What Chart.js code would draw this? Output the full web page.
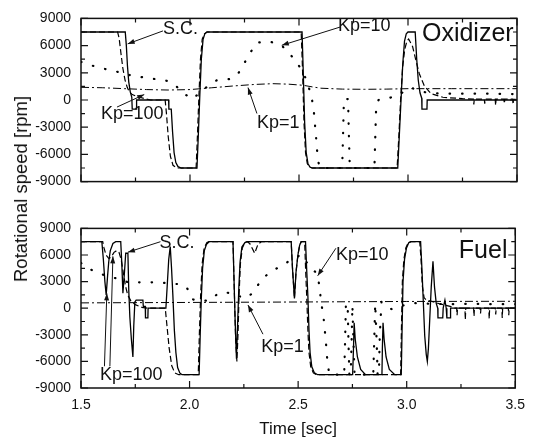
<!DOCTYPE html>
<html>
<head>
<meta charset="utf-8">
<script src="https://cdn.jsdelivr.net/npm/chart.js@4.4.0/dist/chart.umd.min.js"></script>
<style>
  body { margin: 0; background: #fff; }
  #wrap { position: relative; width: 534px; height: 442px; overflow: hidden; }
  canvas { position: absolute; left: 0; }
  #ytitle {
    position: absolute; left: 21px; top: 189px;
    transform: translate(-50%, -50%) rotate(-90deg);
    font: 18.5px "Liberation Sans", Arial, sans-serif;
    white-space: nowrap; color: #111;
  }
</style>
</head>
<body>
<div id="wrap">
  <canvas id="ox" width="534" height="200" style="top:0"></canvas>
  <canvas id="fuel" width="534" height="232" style="top:210px"></canvas>
  <div id="ytitle">Rotational speed [rpm]</div>
</div>
<script>
// axis ranges / ticks
const timeTicks = [1.5, 2.0, 2.5, 3.0, 3.5];
const rpmTicks = [-9000, -6000, -3000, 0, 3000, 6000, 9000];

// Oxidizer panel, [time sec, rpm]
const oxSC = [[1.5,7500],[1.703,7500],[1.708,6000],[1.713,3800],[1.719,2000],[1.726,900],[1.733,300],[1.735,-1000],[1.754,-1000],[1.755,0],
  [1.902,0],[1.903,-1000],[1.914,-1000],[1.92,-3500],[1.927,-5800],[1.935,-6900],[1.945,-7350],[1.96,-7500],[2.032,-7500],[2.038,-4000],
  [2.045,500],[2.052,4500],[2.06,6700],[2.068,7300],[2.078,7500],[2.514,7500],[2.519,3500],[2.526,-2500],[2.533,-5800],[2.541,-7000],
  [2.55,-7400],[2.562,-7500],[2.953,-7500],[2.96,-4000],[2.968,0],[2.976,4000],[2.984,6500],[2.992,7300],[3.0,7500],[3.033,7500],
  [3.04,4500],[3.047,2200],[3.055,800],[3.063,200],[3.064,-1000],[3.087,-1000],[3.088,0],[3.5,0]];
const oxKp100 = [[1.5,7500],[1.668,7500],[1.675,6800],[1.683,5200],[1.692,3500],[1.702,2200],[1.712,1400],[1.722,900],[1.735,600],[1.75,450],
  [1.77,300],[1.795,120],[1.82,0],[1.886,0],[1.892,-1500],[1.9,-4000],[1.91,-6200],[1.922,-7200],[1.94,-7500],[2.028,-7500],
  [2.034,-4000],[2.041,500],[2.048,4500],[2.056,6700],[2.066,7300],[2.078,7500],[2.51,7500],[2.516,3500],[2.523,-2500],[2.53,-5800],
  [2.538,-7000],[2.548,-7400],[2.56,-7500],[2.95,-7500],[2.958,-4000],[2.966,0],[2.975,3500],[2.985,5600],[2.995,6500],[3.003,6730],
  [3.021,5900],[3.037,4300],[3.052,2900],[3.075,1550],[3.106,700],[3.16,300],[3.25,150],[3.3,100],[3.302,-500],[3.304,100],
  [3.35,100],[3.352,-400],[3.354,100],[3.4,100],[3.402,-600],[3.404,100],[3.44,100],[3.442,-400],[3.444,100],[3.48,100],[3.482,-500],[3.484,100],[3.5,50]];
const oxKp10 = [[1.5,4200],[1.557,3750],[1.61,3420],[1.667,3110],[1.725,2740],[1.783,2510],[1.839,2310],[1.896,2110],[1.93,1700],[1.954,1100],
  [1.985,500],[2.011,100],[2.04,700],[2.08,1500],[2.122,2170],[2.18,2310],[2.215,2700],[2.238,3550],[2.269,4950],[2.307,6330],
  [2.364,6460],[2.42,6030],[2.466,4850],[2.508,3500],[2.535,2170],[2.554,660],[2.566,-700],[2.578,-4000],[2.586,-6500],[2.595,-7500],
  [2.698,-7500],[2.702,-4000],[2.706,100],[2.725,100],[2.729,-4000],[2.733,-7500],[2.846,-7500],[2.85,-4000],[2.854,-700],[2.865,0],
  [2.9,100],[2.96,600],[2.985,1000],[3.014,1370],[3.05,1000],[3.1,750],[3.2,700],[3.35,700],[3.5,650]];
const oxKp1 = [[1.5,1400],[1.6,1350],[1.7,1250],[1.8,1150],[1.9,1100],[2.0,1150],[2.1,1350],[2.2,1550],[2.3,1720],[2.38,1800],
  [2.45,1750],[2.52,1620],[2.56,1450],[2.6,1300],[2.7,1200],[2.8,1180],[2.9,1200],[3.0,1250],[3.2,1250],[3.5,1250]];

// Fuel panel, [time sec, rpm]
const fuelSC = [[1.5,7500],[1.596,7500],[1.603,5500],[1.61,3000],[1.616,1500],[1.622,3500],[1.628,5300],[1.635,6500],[1.647,7300],[1.66,7500],
  [1.683,7500],[1.688,5000],[1.693,1700],[1.7,4000],[1.706,6200],[1.716,6200],[1.72,2000],[1.725,-1000],[1.732,-3500],[1.739,-5500],
  [1.743,-2000],[1.748,700],[1.754,900],[1.785,900],[1.787,200],[1.796,200],[1.797,-1100],[1.808,-1100],[1.809,0],[1.891,0],
  [1.897,2500],[1.904,5500],[1.911,6950],[1.917,4500],[1.923,1500],[1.93,-2500],[1.937,-5000],[1.945,-6700],[1.955,-7300],[1.965,-7500],
  [2.044,-7500],[2.049,-3000],[2.054,1000],[2.06,4500],[2.068,6500],[2.078,7200],[2.09,7500],[2.2,7500],[2.205,3000],[2.21,-1500],
  [2.216,-5700],[2.221,-2000],[2.227,2400],[2.233,5300],[2.241,6900],[2.255,7400],[2.265,7500],[2.468,7500],[2.474,4500],[2.483,1100],
  [2.49,4000],[2.499,6000],[2.507,7100],[2.514,7500],[2.534,7500],[2.54,4000],[2.545,1300],[2.55,-2500],[2.555,-5000],[2.563,-6600],
  [2.575,-7300],[2.59,-7500],[2.751,-7500],[2.755,-4500],[2.758,-1650],[2.763,-3500],[2.773,-5500],[2.788,-6900],[2.81,-7500],[2.886,-7500],
  [2.888,-4500],[2.891,-1650],[2.896,-3500],[2.905,-5500],[2.92,-6900],[2.945,-7500],[2.975,-7500],[2.979,-2000],[2.983,3000],[2.99,5500],
  [2.999,6800],[3.01,7400],[3.02,7500],[3.064,7500],[3.07,4500],[3.075,1600],[3.083,-3100],[3.09,-5200],[3.095,-6000],[3.1,-4500],
  [3.106,-1300],[3.113,2400],[3.121,5300],[3.128,2400],[3.136,550],[3.143,0],[3.144,-1100],[3.166,-1100],[3.168,0],[3.176,900],
  [3.182,0],[3.185,-1100],[3.2,-1100],[3.202,0],[3.5,0]];
const fuelKp100 = [[1.5,7500],[1.6,7500],[1.606,6800],[1.615,6000],[1.628,5600],[1.64,5800],[1.652,6300],[1.665,6500],[1.675,6300],[1.685,5500],
  [1.695,4000],[1.705,2500],[1.715,1500],[1.73,800],[1.75,400],[1.78,100],[1.81,0],[1.888,0],[1.896,-2000],[1.906,-4500],
  [1.918,-6500],[1.932,-7300],[1.95,-7500],[2.04,-7500],[2.045,-3000],[2.051,1500],[2.058,5000],[2.067,6800],[2.08,7400],[2.09,7500],
  [2.2,7500],[2.206,2000],[2.212,-3500],[2.218,-6000],[2.223,-3000],[2.228,1500],[2.234,5000],[2.243,6800],[2.255,7400],[2.265,7500],
  [2.277,7300],[2.3,6200],[2.315,7200],[2.33,7500],[2.468,7500],[2.474,4500],[2.483,1100],[2.49,4000],[2.499,6000],[2.507,7100],
  [2.514,7500],[2.53,7500],[2.535,4000],[2.54,1000],[2.545,-2500],[2.55,-5000],[2.558,-6600],[2.57,-7300],[2.585,-7500],[2.972,-7500],
  [2.976,-2000],[2.98,3000],[2.987,5500],[2.996,6800],[3.007,7400],[3.02,7500],[3.06,7500],[3.066,5500],[3.072,2500],[3.08,1200],
  [3.09,900],[3.116,770],[3.15,500],[3.2,200],[3.22,0],[3.23,0],[3.232,-800],[3.234,0],[3.268,0],[3.27,-1300],[3.272,0],
  [3.308,0],[3.31,-900],[3.312,0],[3.338,0],[3.34,-600],[3.342,0],[3.378,0],[3.38,-1200],[3.382,0],[3.408,0],[3.41,-700],[3.412,0],
  [3.438,0],[3.44,-1100],[3.442,0],[3.468,0],[3.47,-800],[3.472,0],[3.5,0]];
const fuelKp10 = [[1.5,5100],[1.529,4540],[1.572,4060],[1.61,3700],[1.648,3440],[1.685,3290],[1.716,2920],[1.777,2920],[1.853,2920],[1.93,2740],
  [1.968,2700],[1.99,2200],[2.006,1300],[2.015,990],[2.05,800],[2.098,910],[2.128,1600],[2.16,1800],[2.2,1650],[2.254,1100],
  [2.292,1710],[2.33,3180],[2.368,4020],[2.407,4570],[2.445,5120],[2.48,5600],[2.514,6040],[2.541,5120],[2.57,4300],[2.59,3840],
  [2.598,2370],[2.605,910],[2.618,-1280],[2.628,-3840],[2.636,-6400],[2.645,-7500],[2.712,-7500],[2.716,-4000],[2.72,500],[2.728,500],
  [2.732,-4000],[2.736,-7500],[2.742,-7500],[2.746,-4000],[2.75,300],[2.755,-4000],[2.76,-7500],[2.846,-7500],[2.85,-4000],[2.855,500],
  [2.862,-4000],[2.866,-7500],[2.872,-7500],[2.876,-3000],[2.884,720],[2.93,-100],[2.97,200],[3.006,470],[3.05,600],[3.1,500],
  [3.2,450],[3.3,500],[3.4,450],[3.5,450]];
const fuelKp1 = [[1.5,600],[2.0,650],[2.5,700],[3.0,760],[3.5,780]];

// annotations: [text, time, rpm] and arrows [fromT, fromV, toT, toV, head]
const oxNotes = [['S.C.', 1.876, 7870], ['Kp=100', 1.592, -1510], ['Kp=10', 2.679, 8200], ['Kp=1', 2.307, -2510]];
const oxArrows = [[1.876, 7620, 1.714, 6190, 1], [1.665, -780, 1.79, 600, 1], [2.688, 8040, 2.421, 6030, 1], [2.307, -1490, 2.266, 1370, 1]];
const fuelNotes = [['S.C.', 1.861, 7310], ['Kp=100', 1.587, -7540], ['Kp=10', 2.674, 6040], ['Kp=1', 2.330, -4390]];
const fuelArrows = [[1.866, 7500, 1.716, 6320, 1], [1.608, -6550, 1.619, 1680, 1], [1.633, -6550, 1.647, 5850, 1],
  [2.674, 6760, 2.59, 3660, 1], [2.338, -2930, 2.269, 360, 1]];

Chart.defaults.font.family = '"Liberation Sans", Arial, sans-serif';
Chart.defaults.color = '#111';

const toXY = arr => arr.map(([x, y]) => ({ x, y }));

// box, inward ticks and labels/arrows
const decor = {
  id: 'decor',
  afterDraw(chart, args, opts) {
    const { ctx, chartArea: a, scales: { x, y } } = chart;
    ctx.save();
    ctx.strokeStyle = '#111';
    ctx.lineWidth = 1.5;
    ctx.strokeRect(a.left, a.top, a.right - a.left, a.bottom - a.top);
    ctx.lineWidth = 1.2;
    ctx.beginPath();
    for (let i = 0; i <= 8; i++) {
      const px = x.getPixelForValue(1.5 + i * 0.25);
      const len = i % 2 ? 4 : 7;
      ctx.moveTo(px, a.bottom); ctx.lineTo(px, a.bottom - len);
      ctx.moveTo(px, a.top); ctx.lineTo(px, a.top + len);
    }
    for (let i = 0; i <= 12; i++) {
      const py = y.getPixelForValue(-9000 + i * 1500);
      const len = i % 2 ? 4 : 7;
      ctx.moveTo(a.left, py); ctx.lineTo(a.left + len, py);
      ctx.moveTo(a.right, py); ctx.lineTo(a.right - len, py);
    }
    ctx.stroke();

    ctx.fillStyle = '#111';
    ctx.strokeStyle = '#111';
    ctx.lineWidth = 1;
    opts.arrows.forEach(([t1, v1, t2, v2, head]) => {
      const x1 = x.getPixelForValue(t1), y1 = y.getPixelForValue(v1);
      const x2 = x.getPixelForValue(t2), y2 = y.getPixelForValue(v2);
      ctx.beginPath();
      ctx.moveTo(x1, y1); ctx.lineTo(x2, y2);
      ctx.stroke();
      if (head) {
        const ang = Math.atan2(y2 - y1, x2 - x1);
        ctx.beginPath();
        ctx.moveTo(x2, y2);
        ctx.lineTo(x2 - 7 * Math.cos(ang) + 2.5 * Math.sin(ang), y2 - 7 * Math.sin(ang) - 2.5 * Math.cos(ang));
        ctx.lineTo(x2 - 7 * Math.cos(ang) - 2.5 * Math.sin(ang), y2 - 7 * Math.sin(ang) + 2.5 * Math.cos(ang));
        ctx.closePath();
        ctx.fill();
      }
    });
    ctx.textBaseline = 'middle';
    ctx.textAlign = 'left';
    ctx.font = '18px "Liberation Sans", Arial, sans-serif';
    opts.notes.forEach(([txt, t, v]) => {
      ctx.fillText(txt, x.getPixelForValue(t), y.getPixelForValue(v));
    });
    ctx.font = '25px "Liberation Sans", Arial, sans-serif';
    const [ptxt, pt, pv] = opts.panel;
    ctx.fillText(ptxt, x.getPixelForValue(pt), y.getPixelForValue(pv));
    ctx.restore();
  }
};

function makeSets(sc, kp100, kp10, kp1) {
  return [
    { label: 'S.C.', data: toXY(sc), borderColor: '#000', borderWidth: 1.3 },
    { label: 'Kp=100', data: toXY(kp100), borderColor: '#000', borderWidth: 1.2, borderDash: [6, 3] },
    { label: 'Kp=10', data: toXY(kp10), borderColor: '#000', borderWidth: 2.2, borderDash: [0.5, 12], borderCapStyle: 'round' },
    { label: 'Kp=1', data: toXY(kp1), borderColor: '#000', borderWidth: 1, borderDash: [8, 3, 2, 3] }
  ];
}

function makeChart(id, sets, isBottom, notes, arrows, panel) {
  return new Chart(document.getElementById(id), {
    type: 'line',
    data: { datasets: sets },
    options: {
      responsive: false,
      animation: false,
      elements: { point: { radius: 0 }, line: { tension: 0 } },
      layout: { padding: { top: 14, right: 17, bottom: isBottom ? 0 : 7, left: 0 } },
      plugins: {
        legend: { display: false },
        tooltip: { enabled: false },
        decor: { notes, arrows, panel }
      },
      scales: {
        x: {
          type: 'linear',
          display: isBottom,
          min: 1.5, max: 3.5,
          afterBuildTicks: s => { s.ticks = timeTicks.map(v => ({ value: v })); },
          afterFit: s => { if (isBottom) s.height = 54; },
          grid: { display: false, drawTicks: false },
          border: { display: false },
          ticks: { padding: 9, font: { size: 14 }, color: '#111', callback: v => v.toFixed(1), maxRotation: 0 },
          title: { display: true, text: 'Time [sec]', font: { size: 17 }, color: '#111', padding: { top: 4, bottom: 2 } }
        },
        y: {
          type: 'linear',
          min: -9000, max: 9000,
          afterBuildTicks: s => { s.ticks = rpmTicks.map(v => ({ value: v })); },
          afterFit: s => { s.width = 81; },
          grid: { display: false, drawTicks: false },
          border: { display: false },
          ticks: { padding: 10, font: { size: 14 }, color: '#111', callback: v => String(v) }
        }
      }
    },
    plugins: [decor]
  });
}

makeChart('ox', makeSets(oxSC, oxKp100, oxKp10, oxKp1), false, oxNotes, oxArrows, ['Oxidizer', 3.064, 7300]);
makeChart('fuel', makeSets(fuelSC, fuelKp100, fuelKp10, fuelKp1), true, fuelNotes, fuelArrows, ['Fuel', 3.24, 6480]);
</script>
</body>
</html>
